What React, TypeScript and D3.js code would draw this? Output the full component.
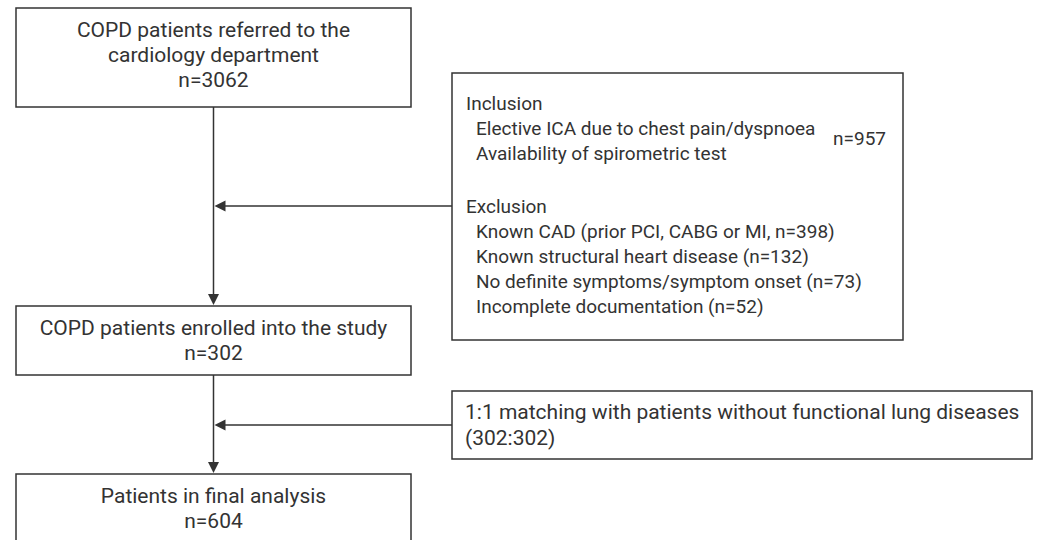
import * as d3 from "d3";
import { useEffect, useRef } from "react";

// flow steps (left column, top to bottom)
const stepTitles = [
  ["COPD patients referred to the", "cardiology department"],
  ["COPD patients enrolled into the study"],
  ["Patients in final analysis"],
];
const stepCounts = [3062, 302, 604];

const inclusionItems = [
  "Elective ICA due to chest pain/dyspnoea",
  "Availability of spirometric test",
];
const inclusionCount = 957;

const exclusionItems = [
  "Known CAD (prior PCI, CABG or MI, n=398)",
  "Known structural heart disease (n=132)",
  "No definite symptoms/symptom onset (n=73)",
  "Incomplete documentation (n=52)",
];

const matchingLines = [
  "1:1 matching with patients without functional lung diseases",
  "(302:302)",
];

const FONT = "Roboto, 'Liberation Sans', sans-serif";
const INK = "#333";

const App: React.FC = () => {
  const ref = useRef<SVGSVGElement | null>(null);

  useEffect(() => {
    const svg = d3.select(ref.current);
    svg.selectAll("*").remove();

    const lineH = 25;
    const fontSize = 21;
    const critFont = 19;
    const sw = 1.5;

    // left column boxes
    const leftX = 16,
      leftW = 395;
    const cx = leftX + leftW / 2;
    const stepBoxes = [
      { y: 8, h: 99, first: 37 },
      { y: 306, h: 69, first: 335 },
      { y: 474, h: 80, first: 503 },
    ];

    const g = svg.append("g");

    const arrowHead = (x: number, y: number, dir: "down" | "left") => {
      const len = 11,
        half = 5.5;
      const pts: [number, number][] =
        dir === "down"
          ? [
              [x, y],
              [x - half, y - len],
              [x + half, y - len],
            ]
          : [
              [x, y],
              [x + len, y - half],
              [x + len, y + half],
            ];
      g.append("path")
        .attr("d", d3.line()(pts) + "Z")
        .attr("fill", INK);
    };

    const box = (x: number, y: number, w: number, h: number) =>
      g
        .append("rect")
        .attr("x", x)
        .attr("y", y)
        .attr("width", w)
        .attr("height", h)
        .attr("fill", "none")
        .attr("stroke", INK)
        .attr("stroke-width", sw);

    const label = (
      x: number,
      y: number,
      t: string,
      anchor: "start" | "middle" | "end" = "start",
      size = fontSize
    ) =>
      g
        .append("text")
        .attr("x", x)
        .attr("y", y)
        .attr("text-anchor", anchor)
        .attr("font-family", FONT)
        .attr("font-size", size)
        .attr("fill", INK)
        .text(t);

    stepBoxes.forEach((b, i) => {
      box(leftX, b.y, leftW, b.h);
      const lines = [...stepTitles[i], `n=${stepCounts[i]}`];
      lines.forEach((t, j) => label(cx, b.first + j * lineH, t, "middle"));
    });

    // vertical connectors
    for (let i = 0; i < stepBoxes.length - 1; i++) {
      const y0 = stepBoxes[i].y + stepBoxes[i].h;
      const y1 = stepBoxes[i + 1].y;
      g.append("line")
        .attr("x1", cx)
        .attr("x2", cx)
        .attr("y1", y0)
        .attr("y2", y1 - 8)
        .attr("stroke", INK)
        .attr("stroke-width", sw);
      arrowHead(cx, y1 - 1, "down");
    }

    // inclusion / exclusion box
    const critX = 452,
      critY = 73,
      critW = 451,
      critH = 267;
    box(critX, critY, critW, critH);

    const incTop = 110;
    label(critX + 14, incTop, "Inclusion", "start", critFont);
    inclusionItems.forEach((t, j) =>
      label(critX + 24, incTop + (j + 1) * lineH, t, "start", critFont)
    );
    const excTop = 213;
    label(critX + 14, excTop, "Exclusion", "start", critFont);
    exclusionItems.forEach((t, j) =>
      label(critX + 24, excTop + (j + 1) * lineH, t, "start", critFont)
    );
    label(critX + critW - 17, 145, `n=${inclusionCount}`, "end", critFont);

    const exArrowY = 206;
    g.append("line")
      .attr("x1", critX)
      .attr("x2", cx + 8)
      .attr("y1", exArrowY)
      .attr("y2", exArrowY)
      .attr("stroke", INK)
      .attr("stroke-width", sw);
    arrowHead(cx + 1, exArrowY, "left");

    // matching box
    const mX = 452,
      mY = 391,
      mW = 580,
      mH = 68;
    box(mX, mY, mW, mH);
    matchingLines.forEach((t, j) => label(mX + 13, 419 + j * 26, t));
    const mArrowY = 425;
    g.append("line")
      .attr("x1", mX)
      .attr("x2", cx + 8)
      .attr("y1", mArrowY)
      .attr("y2", mArrowY)
      .attr("stroke", INK)
      .attr("stroke-width", sw);
    arrowHead(cx + 1, mArrowY, "left");
  }, []);

  return (
    <svg
      ref={ref}
      width={1040}
      height={540}
      style={{ position: "absolute", left: 0, top: 0, background: "#fff" }}
    ></svg>
  );
};

export default App;
